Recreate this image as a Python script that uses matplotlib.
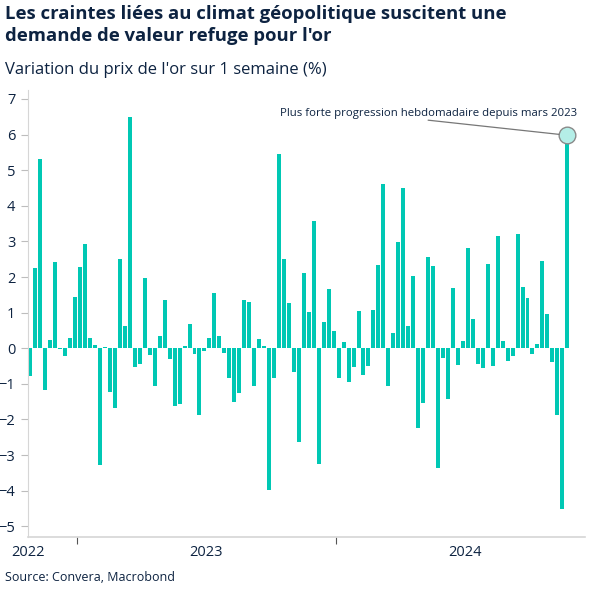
import matplotlib
matplotlib.use("Agg")
import matplotlib.pyplot as plt
import pandas as pd

plt.rcParams["font.family"] = ["Open Sans", "DejaVu Sans"]

TITLE = "Les craintes liées au climat géopolitique suscitent une\ndemande de valeur refuge pour l'or"
SUBTITLE = "Variation du prix de l'or sur 1 semaine (%)"
SOURCE = "Source: Convera, Macrobond"
NOTE = "Plus forte progression hebdomadaire depuis mars 2023"

LAST_WEEK = "2024-11-22"
WEEKLY_CHANGE = [
    -0.78, 2.25, 5.32, -1.16, 0.24, 2.43, -0.03, -0.22, 0.28, 1.44,
    2.29, 2.93, 0.30, 0.09, -3.27, 0.04, -1.24, -1.69, 2.51, 0.63,
    6.49, -0.54, -0.45, 1.97, -0.19, -1.05, 0.35, 1.36, -0.30, -1.63,
    -1.57, 0.07, 0.68, -0.16, -1.87, -0.09, 0.30, 1.56, 0.35, -0.12,
    -0.84, -1.50, -1.27, 1.36, 1.31, -1.07, 0.25, 0.07, -3.98, -0.84,
    5.46, 2.51, 1.26, -0.68, -2.62, 2.10, 1.01, 3.58, -3.25, 0.75,
    1.66, 0.49, -0.83, 0.17, -0.95, -0.52, 1.05, -0.76, -0.51, 1.08,
    2.34, 4.62, -1.05, 0.44, 2.98, 4.49, 0.63, 2.02, -2.25, -1.54,
    2.56, 2.32, -3.37, -0.27, -1.43, 1.70, -0.47, 0.21, 2.82, 0.81,
    -0.43, -0.56, 2.36, -0.49, 3.16, 0.19, -0.36, -0.22, 3.22, 1.71,
    1.40, -0.17, 0.11, 2.45, 0.96, -0.39, -1.87, -4.51, 5.98,
]
YEAR_LABELS = ["2022", "2023", "2024"]

BAR_COLOR = "#00c8b4"
TEXT_COLOR = "#0d2341"
AXIS_COLOR = "#d6d6d6"

weeks = pd.date_range(end=LAST_WEEK, periods=len(WEEKLY_CHANGE), freq="7D")

fig = plt.figure(figsize=(6.07, 6.05), dpi=100)
ax = fig.add_axes([0.0461, 0.1124, 0.9177, 0.7388])

ax.bar(weeks, WEEKLY_CHANGE, width=5.6, color=BAR_COLOR, linewidth=0)

x_left = weeks[0] - pd.Timedelta(days=3.5)
x_right = weeks[-1] + pd.Timedelta(days=25)
ax.set_xlim(x_left, x_right)
ax.set_ylim(-5.3, 7.25)
ax.set_yticks(range(-5, 8))
ax.tick_params(axis="y", length=5, color="#bdbdbd", labelsize=10.5,
               labelcolor=TEXT_COLOR, pad=4)

year_starts = pd.to_datetime(["2023-01-01", "2024-01-01"])
ax.set_xticks(year_starts)
ax.set_xticklabels([])
ax.tick_params(axis="x", which="major", length=5, color="#555555")
mid_years = [x_left, pd.Timestamp("2023-07-02"), pd.Timestamp("2024-07-01")]
ax.set_xticks(mid_years, minor=True)
ax.set_xticklabels(YEAR_LABELS, minor=True)
ax.tick_params(axis="x", which="minor", length=0, labelsize=10.5,
               labelcolor=TEXT_COLOR, pad=6)

for side in ["top", "right"]:
    ax.spines[side].set_visible(False)
ax.spines["left"].set_color(AXIS_COLOR)
ax.spines["bottom"].set_color(AXIS_COLOR)
ax.spines["bottom"].set_linewidth(1.2)

# highlight the last week
ax.plot(weeks[-1], WEEKLY_CHANGE[-1], marker="o", markersize=12,
        markerfacecolor="#b4eee7", markeredgecolor="#8a8a8a",
        markeredgewidth=1, zorder=3)
ax.annotate(
    NOTE,
    xy=(weeks[-1], WEEKLY_CHANGE[-1]),
    xytext=(0.985, 0.935), textcoords="axes fraction",
    ha="right", va="bottom", fontsize=8.2, color=TEXT_COLOR,
    arrowprops=dict(arrowstyle="-", color="#777777", linewidth=0.9,
                    relpos=(0.5, -0.1), patchA=None, shrinkA=0, shrinkB=6),
)

fig.text(0.008, 0.992, TITLE, ha="left", va="top", fontsize=13.3,
         fontweight="bold", color=TEXT_COLOR, linespacing=1.3)
fig.text(0.008, 0.885, SUBTITLE, ha="left", va="center", fontsize=12,
         color=TEXT_COLOR)
fig.text(0.008, 0.045, SOURCE, ha="left", va="center", fontsize=9,
         color=TEXT_COLOR)

fig.savefig("out.png", dpi=100)
